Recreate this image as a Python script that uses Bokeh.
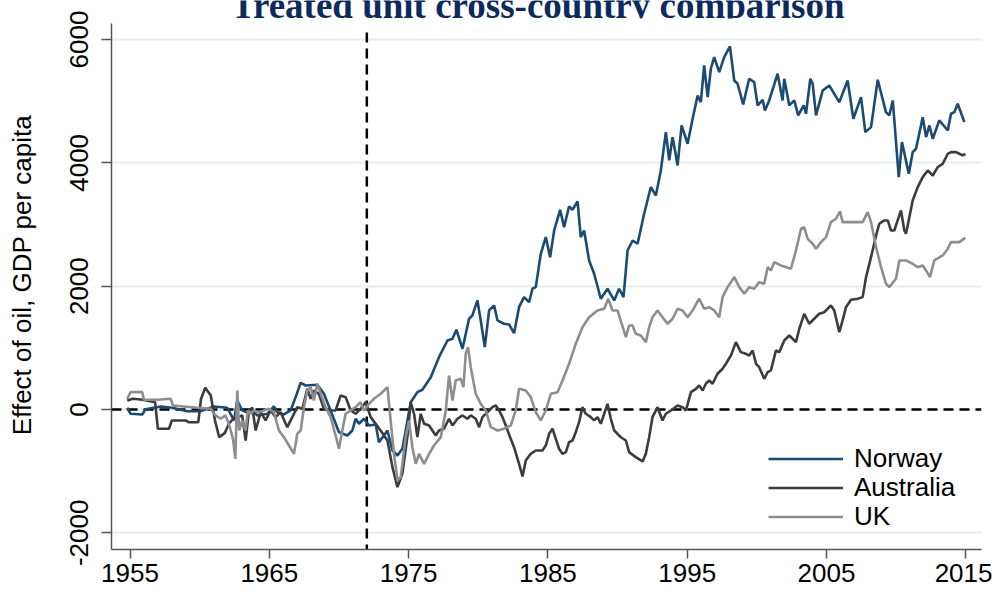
from bokeh.plotting import figure
from bokeh.models import Range1d, FixedTicker, Span, Legend, LegendItem
from bokeh.core.properties import value
from bokeh.embed import file_html
from bokeh.resources import INLINE

# ---------------- data ----------------
x_ticks = [1955, 1965, 1975, 1985, 1995, 2005, 2015]
y_ticks = [-2000, 0, 2000, 4000, 6000]
y_tick_labels = {-2000: "-2000", 0: "0", 2000: "2000", 4000: "4000", 6000: "6000"}
treatment_year = 1972
title_text = "Treated unit cross-country comparison"

norway_year = [1954.8, 1955.04, 1955.88, 1956.11, 1957.19, 1958.03, 1959.11, 1960.06, 1961.02, 1961.98,
               1962.46, 1962.70, 1963.06, 1963.42, 1963.66, 1964.14, 1964.86, 1965.33, 1965.57, 1966.05,
               1966.53, 1966.89, 1967.25, 1967.61, 1968.45, 1968.92, 1969.40, 1970.00, 1970.60, 1970.96,
               1971.20, 1971.44, 1971.80, 1972.16, 1972.64, 1972.87, 1973.23, 1973.48, 1973.84, 1974.20,
               1974.55, 1974.79, 1975.15, 1975.63, 1975.99, 1976.59, 1977.18, 1977.79, 1978.15, 1978.43,
               1978.87, 1979.34, 1979.58, 1979.94, 1980.18, 1980.47, 1980.78, 1981.14, 1981.38, 1981.85,
               1982.21, 1982.57, 1982.93, 1983.29, 1983.65, 1983.89, 1984.13, 1984.49, 1984.85, 1985.16,
               1985.45, 1985.88, 1986.16, 1986.52, 1986.77, 1987.13, 1987.36, 1987.60, 1987.96, 1988.32,
               1988.80, 1989.28, 1989.76, 1990.11, 1990.43, 1990.72, 1991.08, 1991.44, 1991.91, 1992.39,
               1992.75, 1993.11, 1993.47, 1993.71, 1993.95, 1994.19, 1994.31, 1994.60, 1995.03, 1995.39,
               1995.75, 1995.98, 1996.22, 1996.47, 1996.70, 1996.94, 1997.30, 1997.66, 1998.07, 1998.38,
               1998.62, 1999.02, 1999.45, 1999.81, 2000.06, 2000.42, 2000.58, 2000.89, 2001.49, 2001.85,
               2001.97, 2002.33, 2002.69, 2002.97, 2003.36, 2003.53, 2003.84, 2004.01, 2004.25, 2004.73,
               2005.20, 2005.92, 2006.52, 2006.93, 2007.48, 2007.79, 2008.20, 2008.68, 2009.27, 2009.51,
               2009.76, 2010.19, 2010.42, 2010.91, 2011.19, 2011.43, 2011.91, 2012.15, 2012.39, 2012.63,
               2013.10, 2013.71, 2013.94, 2014.18, 2014.42, 2014.90]
norway_val = [28, -70, -81, 5, 49, 28, -28, -28, 49, 28,
              -178, 146, -16, -44, 5, -97, -70, 49, -44, -81,
              -16, 200, 433, 389, 401, 255, -16, -368, -422, -341,
              -151, -232, -151, -260, -243, -530, -422, -341, -665, -746,
              -637, -341, 118, 281, 320, 524, 848, 1119, 1147, 1293,
              985, 1471, 1525, 1768, 1444, 1011, 1606, 1687, 1444, 1390,
              1379, 1238, 1659, 1822, 1740, 1958, 1984, 2525, 2795, 2470,
              2903, 3239, 2957, 3293, 3239, 3374, 2795, 2903, 2417, 2201,
              1796, 1958, 1768, 1958, 1822, 2579, 2741, 2688, 3174, 3606,
              3471, 3877, 4498, 4039, 4417, 4120, 3958, 4606, 4310, 4715,
              5093, 4984, 5580, 5066, 5526, 5714, 5471, 5714, 5888, 5336,
              5283, 4947, 5364, 5309, 4931, 5023, 4850, 5012, 5445, 5012,
              5364, 4931, 5012, 4769, 4931, 4796, 5364, 5283, 4769, 5174,
              5255, 4984, 5336, 4715, 5066, 4498, 4579, 5348, 4822, 4769,
              5012, 3768, 4336, 3823, 4173, 4229, 4741, 4417, 4606, 4391,
              4688, 4525, 4796, 4822, 4958, 4660]

australia_year = [1954.80, 1955.20, 1955.90, 1956.80, 1957.00, 1957.80, 1958.00, 1959.00, 1959.20, 1959.90,
                  1960.10, 1960.40, 1960.80, 1961.10, 1961.40, 1961.80, 1962.10, 1962.40, 1963.06, 1963.30,
                  1963.54, 1963.78, 1964.02, 1964.38, 1964.73, 1965.09, 1965.45, 1965.81, 1966.29, 1966.65,
                  1967.01, 1967.37, 1967.73, 1967.97, 1968.20, 1968.56, 1968.92, 1969.40, 1969.76, 1970.12,
                  1970.48, 1970.84, 1971.20, 1971.55, 1971.91, 1972.28,
                  1972.99, 1973.48, 1973.84, 1974.20, 1974.55, 1974.91, 1975.15, 1975.39, 1975.63, 1975.87,
                  1976.11, 1976.47, 1976.95, 1977.18, 1977.54, 1977.90, 1978.15, 1978.51, 1978.87, 1979.22,
                  1979.46, 1979.82, 1980.06, 1980.30, 1980.78, 1981.02, 1981.26, 1981.50, 1981.74, 1981.98,
                  1982.33, 1982.57, 1982.93, 1983.18, 1983.41, 1983.77, 1984.13, 1984.61, 1984.85, 1985.09,
                  1985.33, 1985.57, 1985.80, 1986.05, 1986.29, 1986.52, 1986.77, 1987.00, 1987.24, 1987.48,
                  1987.72, 1988.08, 1988.32, 1988.56, 1988.80, 1989.04, 1989.28, 1989.52, 1989.76, 1990.24,
                  1990.60, 1990.83, 1991.31, 1991.80, 1992.03, 1992.27, 1992.51, 1992.87, 1993.23, 1993.47,
                  1993.83, 1994.31, 1994.67, 1994.91, 1995.27, 1995.63, 1995.86, 1996.11, 1996.34, 1996.58,
                  1996.82, 1997.18, 1997.54, 1997.78, 1998.14, 1998.50, 1998.85, 1999.21, 1999.45, 1999.70,
                  1999.94, 2000.17, 2000.53, 2000.78, 2001.01, 2001.37, 2001.61, 2001.97, 2002.33, 2002.57,
                  2002.81, 2003.05, 2003.40, 2003.76, 2004.12, 2004.48, 2004.84,
                  2005.32, 2005.56, 2005.92, 2006.16, 2006.40, 2006.76, 2007.24, 2007.60, 2007.84, 2008.20,
                  2008.56, 2008.79, 2009.15, 2009.40, 2009.63, 2009.87, 2010.11, 2010.35, 2010.59, 2010.71,
                  2010.95, 2011.19, 2011.55, 2011.91, 2012.27, 2012.63, 2012.99, 2013.35, 2013.71, 2013.94,
                  2014.30, 2014.54, 2014.78, 2014.97]
australia_val = [146, 174, 157, 118, -313, -313, -178, -178, -206, -206,
                 174, 352, 227, -178, -449, -384, -232, -151, -97, -503,
                 -16, 28, -341, -44, -178, -16, -124, -44, -287, -124,
                 37, 11, 335, 174, 308, 255, 11, -16, -16, 227,
                 200, -16, -70, 11, 118, -124,
                 -341, -503, -935, -1260, -1044, -449, 118, -70, -449, -70,
                 -232, -260, -422, -341, -313, -151, -260, -151, -97, -151,
                 -97, -151, -287, -124, -16, 37, 65, -16, -124, -260,
                 -476, -611, -881, -1087, -827, -719, -665, -665, -584, -394,
                 -313, -476, -637, -719, -692, -530, -503, -368, -206, 37,
                 -70, -124, -178, -124, -232, -70, 92, -151, -341, -450,
                 -503, -692, -773, -843, -719, -449, -124, 37, -178, -70,
                 -16, 65, 37, -16, 281, 335, 389, 308, 417, 470,
                 417, 579, 660, 741, 876, 1092, 930, 903, 876, 957,
                 741, 686, 498, 605, 633, 957, 930, 1119, 1200, 1147,
                 1092, 1309, 1552, 1390, 1471, 1552, 1578,
                 1687, 1606, 1254, 1444, 1659, 1779, 1796, 1822, 2146, 2470,
                 2822, 3012, 3066, 3066, 2903, 2903, 3066, 3228, 2903, 2850,
                 3119, 3390, 3606, 3768, 3877, 3795, 3930, 3985, 4147, 4174,
                 4174, 4147, 4120, 4147]

uk_year = [1954.80, 1955.04, 1955.88, 1955.99, 1956.95, 1957.91, 1958.08, 1959.83, 1960.78, 1961.14,
           1961.50, 1961.86, 1962.17, 1962.41, 1962.56, 1962.70, 1962.84, 1963.06, 1963.30, 1963.46,
           1963.66, 1963.89, 1964.25, 1964.61, 1964.97, 1965.33, 1965.69, 1966.05, 1966.41, 1966.77,
           1967.01, 1967.25, 1967.49, 1967.73, 1967.97, 1968.20, 1968.45, 1968.69, 1969.04, 1969.40,
           1969.76, 1970.00, 1970.24, 1970.48, 1970.84, 1971.20, 1971.55, 1971.80, 1972.16, 1972.51,
           1973.00, 1973.48, 1973.71, 1973.95, 1974.20, 1974.43, 1974.79, 1975.03, 1975.27,
           1975.51, 1975.75, 1976.11, 1976.47, 1976.82, 1977.31, 1977.67, 1977.90, 1978.15, 1978.38,
           1978.74, 1978.94, 1979.10, 1979.27, 1979.46, 1979.82, 1980.18, 1980.54, 1980.90, 1981.38,
           1981.85, 1982.33, 1982.69, 1982.93, 1983.41, 1983.77, 1984.13, 1984.49, 1984.85, 1985.21,
           1985.69, 1986.05, 1986.52, 1987.00, 1987.48, 1987.96, 1988.56, 1989.04, 1989.33, 1989.64,
           1990.00, 1990.60, 1990.83, 1991.08, 1991.31, 1991.67, 1992.03, 1992.27, 1992.51, 1992.87,
           1993.23, 1993.59, 1993.95, 1994.31, 1994.67, 1995.03, 1995.39, 1995.86, 1996.22, 1996.58,
           1996.94, 1997.30, 1997.54, 1997.90, 1998.38, 1998.74, 1999.10, 1999.45, 1999.81, 2000.17,
           2000.53, 2000.78, 2001.01, 2001.25, 2001.73, 2002.45, 2002.81, 2003.17, 2003.40, 2003.65,
           2004.01, 2004.25, 2004.61, 2004.97,
           2005.32, 2005.68, 2005.97, 2006.16, 2006.88, 2007.60, 2007.96, 2008.20, 2008.56, 2008.92,
           2009.27, 2009.51, 2009.99, 2010.23, 2010.71, 2011.19, 2011.55, 2011.91, 2012.15, 2012.43,
           2012.74, 2013.35, 2013.71, 2013.94, 2014.54, 2014.97]
uk_val = [174, 281, 281, 157, 157, 174, 65, 28, 11, -97,
          -151, -97, -287, -503, -800, 308, -341, -178, -341, -16,
          -70, -16, -44, -16, 11, -44, -341, -449, -584, -719,
          -394, -341, 37, 308, 362, 146, 417, 255, 37, -124,
          -422, -637, -341, -70, -16, 37, 118, -16, 92, 174,
          255, 362, -178, -719, -1150, -1100, -449, -178, -611,
          -881, -719, -881, -719, -584, -449, -16, 551, 146, 470,
          498, 362, 903, 1011, 686, 255, 92, -16, -287, -341,
          -313, -260, -16, 335, 308, 200, -44, -178, -16, 255,
          281, 470, 741, 1066, 1335, 1497, 1606, 1633, 1796, 1606,
          1606, 1173, 1362, 1362, 1228, 1200, 1092, 1335, 1497, 1606,
          1497, 1390, 1471, 1633, 1606, 1497, 1606, 1796, 1633, 1659,
          1606, 1497, 1822, 1984, 2146, 1984, 1877, 1984, 1958, 2065,
          2039, 2308, 2255, 2389, 2336, 2282, 2579, 2931, 2957, 2768,
          2688, 2606, 2714, 2795,
          3038, 3093, 3212, 3038, 3038, 3038, 3200, 3038, 2633, 2308,
          2039, 1984, 2120, 2417, 2417, 2363, 2308, 2336, 2255, 2146,
          2417, 2498, 2606, 2714, 2714, 2785]

series_names = ["Norway", "Australia", "UK"]
series_colors = ["#1b4a72", "#3c3c3c", "#8e8e8e"]

# ---------------- figure ----------------
# the frame reaches the top of the canvas so that the (cut-off) title lives inside it
p = figure(width=992, height=594, output_backend="svg", toolbar_location=None,
           x_range=Range1d(1953.67, 2016.13), y_range=Range1d(-2271, 6633),
           min_border_left=111, min_border_right=11, min_border_top=0, min_border_bottom=45)
p.title.visible = False
p.outline_line_color = None
p.background_fill_color = "white"
p.border_fill_color = "white"

p.xgrid.visible = False
p.ygrid.grid_line_color = "#e5eef0"
p.ygrid.grid_line_width = 2

p.xaxis.ticker = FixedTicker(ticks=x_ticks)
p.yaxis.ticker = FixedTicker(ticks=y_ticks)
p.yaxis.major_label_overrides = y_tick_labels
p.yaxis.bounds = (-2271, 6260)
for ax in (p.xaxis[0], p.yaxis[0]):
    ax.axis_line_color = "#555555"
    ax.axis_line_width = 1.5
    ax.major_tick_line_color = "#555555"
    ax.major_tick_line_width = 1.5
    ax.major_tick_in = 0
    ax.major_tick_out = 9
    ax.minor_tick_line_color = None
    ax.major_label_text_font = "Liberation Sans"
    ax.major_label_text_font_size = "26px"
    ax.major_label_text_color = "black"
p.yaxis.major_tick_out = 10
p.xaxis.major_label_standoff = 5
p.yaxis.major_label_standoff = 13
p.yaxis.major_label_orientation = "vertical"
p.yaxis.axis_label = "Effect of oil, GDP per capita"
p.yaxis.axis_label_text_font = "Liberation Sans"
p.yaxis.axis_label_text_font_size = "26px"
p.yaxis.axis_label_text_font_style = "normal"
p.yaxis.axis_label_text_color = "black"
p.yaxis.axis_label_standoff = 31

# reference lines
p.add_layout(Span(location=0, dimension="width", line_color="black", line_width=2.5,
                  line_dash="10 6", level="underlay"))
p.add_layout(Span(location=treatment_year, dimension="height", line_color="black", line_width=2.5,
                  line_dash="10 6", level="underlay"))

# white strip above the plot region (hides the top of the vertical dashed line)
p.quad(left=1962, right=2008, bottom=6162, top=6633, fill_color="white", line_color=None)

renderers = []
for xs, ys, c in ((norway_year, norway_val, series_colors[0]),
                  (australia_year, australia_val, series_colors[1]),
                  (uk_year, uk_val, series_colors[2])):
    renderers.append(p.line(xs, ys, line_color=c, line_width=2.6))

# title, cut off at the top and bottom as in the reference
p.text(x=[1984.27], y=[6560], text=[title_text], text_font=value("Liberation Serif"),
       text_font_style="bold", text_font_size="37px", text_color="#0c2a5e",
       text_align="center", text_baseline="alphabetic")
p.quad(left=1962, right=2008, bottom=6162, top=6340, fill_color="white", line_color=None)

# one legend box per entry so that the rows sit exactly as in the reference
legend_offsets = [75, 46, 17]
for name, r, off in zip(series_names, renderers, legend_offsets):
    p.add_layout(Legend(items=[LegendItem(label=name, renderers=[r])],
                        location=(657, off), glyph_width=75, glyph_height=29, label_height=29,
                        spacing=0, padding=0, margin=0, label_standoff=11,
                        label_text_font="Liberation Sans", label_text_font_size="26px",
                        label_text_color="black", border_line_alpha=0, background_fill_alpha=0))

open("out.html", "w").write(file_html(p, INLINE))
